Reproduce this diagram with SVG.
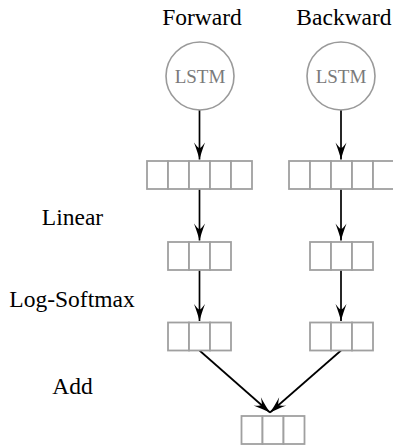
<svg xmlns="http://www.w3.org/2000/svg" width="393" height="447" viewBox="0 0 393 447">
<style>
.lbl{font-family:"Liberation Serif","DejaVu Serif",serif;font-size:23.5px;fill:#000;text-anchor:middle}
.lstm{font-family:"Liberation Serif","DejaVu Serif",serif;font-size:19px;fill:#7a7a7a;text-anchor:middle}
.circ{fill:#fff;stroke:#9a9a9a;stroke-width:1.6}
.cell{fill:#fff;stroke:#a0a0a0;stroke-width:1.8}
.edge{stroke:#000;stroke-width:1.7;fill:none;marker-end:url(#ah)}
</style>
<defs>
<marker id="ah" markerUnits="userSpaceOnUse" markerWidth="1" markerHeight="1" refX="0" refY="0" orient="auto" overflow="visible">
<path d="M0,0 Q-7,-1.8 -17,-5.5 Q-11.5,-1.5 -11.5,0 Q-11.5,1.5 -17,5.5 Q-7,1.8 0,0 Z" fill="#000"/>
</marker>
<g id="c3">
<rect class="cell" x="0" y="0" width="21" height="28"/>
<rect class="cell" x="21" y="0" width="21" height="28"/>
<rect class="cell" x="42" y="0" width="21" height="28"/>
</g>
<g id="c5">
<rect class="cell" x="0" y="0" width="21" height="28"/>
<rect class="cell" x="21" y="0" width="21" height="28"/>
<rect class="cell" x="42" y="0" width="21" height="28"/>
<rect class="cell" x="63" y="0" width="21" height="28"/>
<rect class="cell" x="84" y="0" width="21" height="28"/>
</g>
</defs>
<rect width="393" height="447" fill="#fff"/>
<g id="labels">
<text class="lbl" x="202" y="25" font-family="Liberation Serif, serif">Forward</text>
<text class="lbl" x="344" y="25" font-family="Liberation Serif, serif">Backward</text>
<text class="lbl" x="72.5" y="225" font-family="Liberation Serif, serif">Linear</text>
<text class="lbl" x="72" y="307" font-family="Liberation Serif, serif">Log-Softmax</text>
<text class="lbl" x="72.5" y="394" font-family="Liberation Serif, serif">Add</text>
</g>
<g id="connectors">
<line class="edge" x1="199.5" y1="110" x2="199.5" y2="159.5"/>
<line class="edge" x1="341" y1="110" x2="341" y2="159.5"/>
<line class="edge" x1="199.5" y1="189" x2="199.5" y2="240.5"/>
<line class="edge" x1="341" y1="189" x2="341" y2="240.5"/>
<line class="edge" x1="199.5" y1="270" x2="199.5" y2="321"/>
<line class="edge" x1="341" y1="270" x2="341" y2="321"/>
<line class="edge" x1="199.5" y1="350.5" x2="270" y2="412.5"/>
<line class="edge" x1="341" y1="350.5" x2="270" y2="412.5"/>
</g>
<g id="lstm-forward">
<circle class="circ" cx="200" cy="76" r="34"/>
<text class="lstm" x="200" y="83" font-family="Liberation Serif, serif">LSTM</text>
</g>
<g id="lstm-backward">
<circle class="circ" cx="341" cy="76" r="34"/>
<text class="lstm" x="341" y="83" font-family="Liberation Serif, serif">LSTM</text>
</g>
<g id="fwd-hidden"><use href="#c5" x="147" y="161"/></g>
<g id="bwd-hidden"><use href="#c5" x="289" y="161"/></g>
<g id="fwd-linear"><use href="#c3" x="168" y="242"/></g>
<g id="bwd-linear"><use href="#c3" x="310" y="242"/></g>
<g id="fwd-logsoftmax"><use href="#c3" x="168" y="322.5"/></g>
<g id="bwd-logsoftmax"><use href="#c3" x="310" y="322.5"/></g>
<g id="sum"><use href="#c3" x="241.5" y="416"/></g>
</svg>
